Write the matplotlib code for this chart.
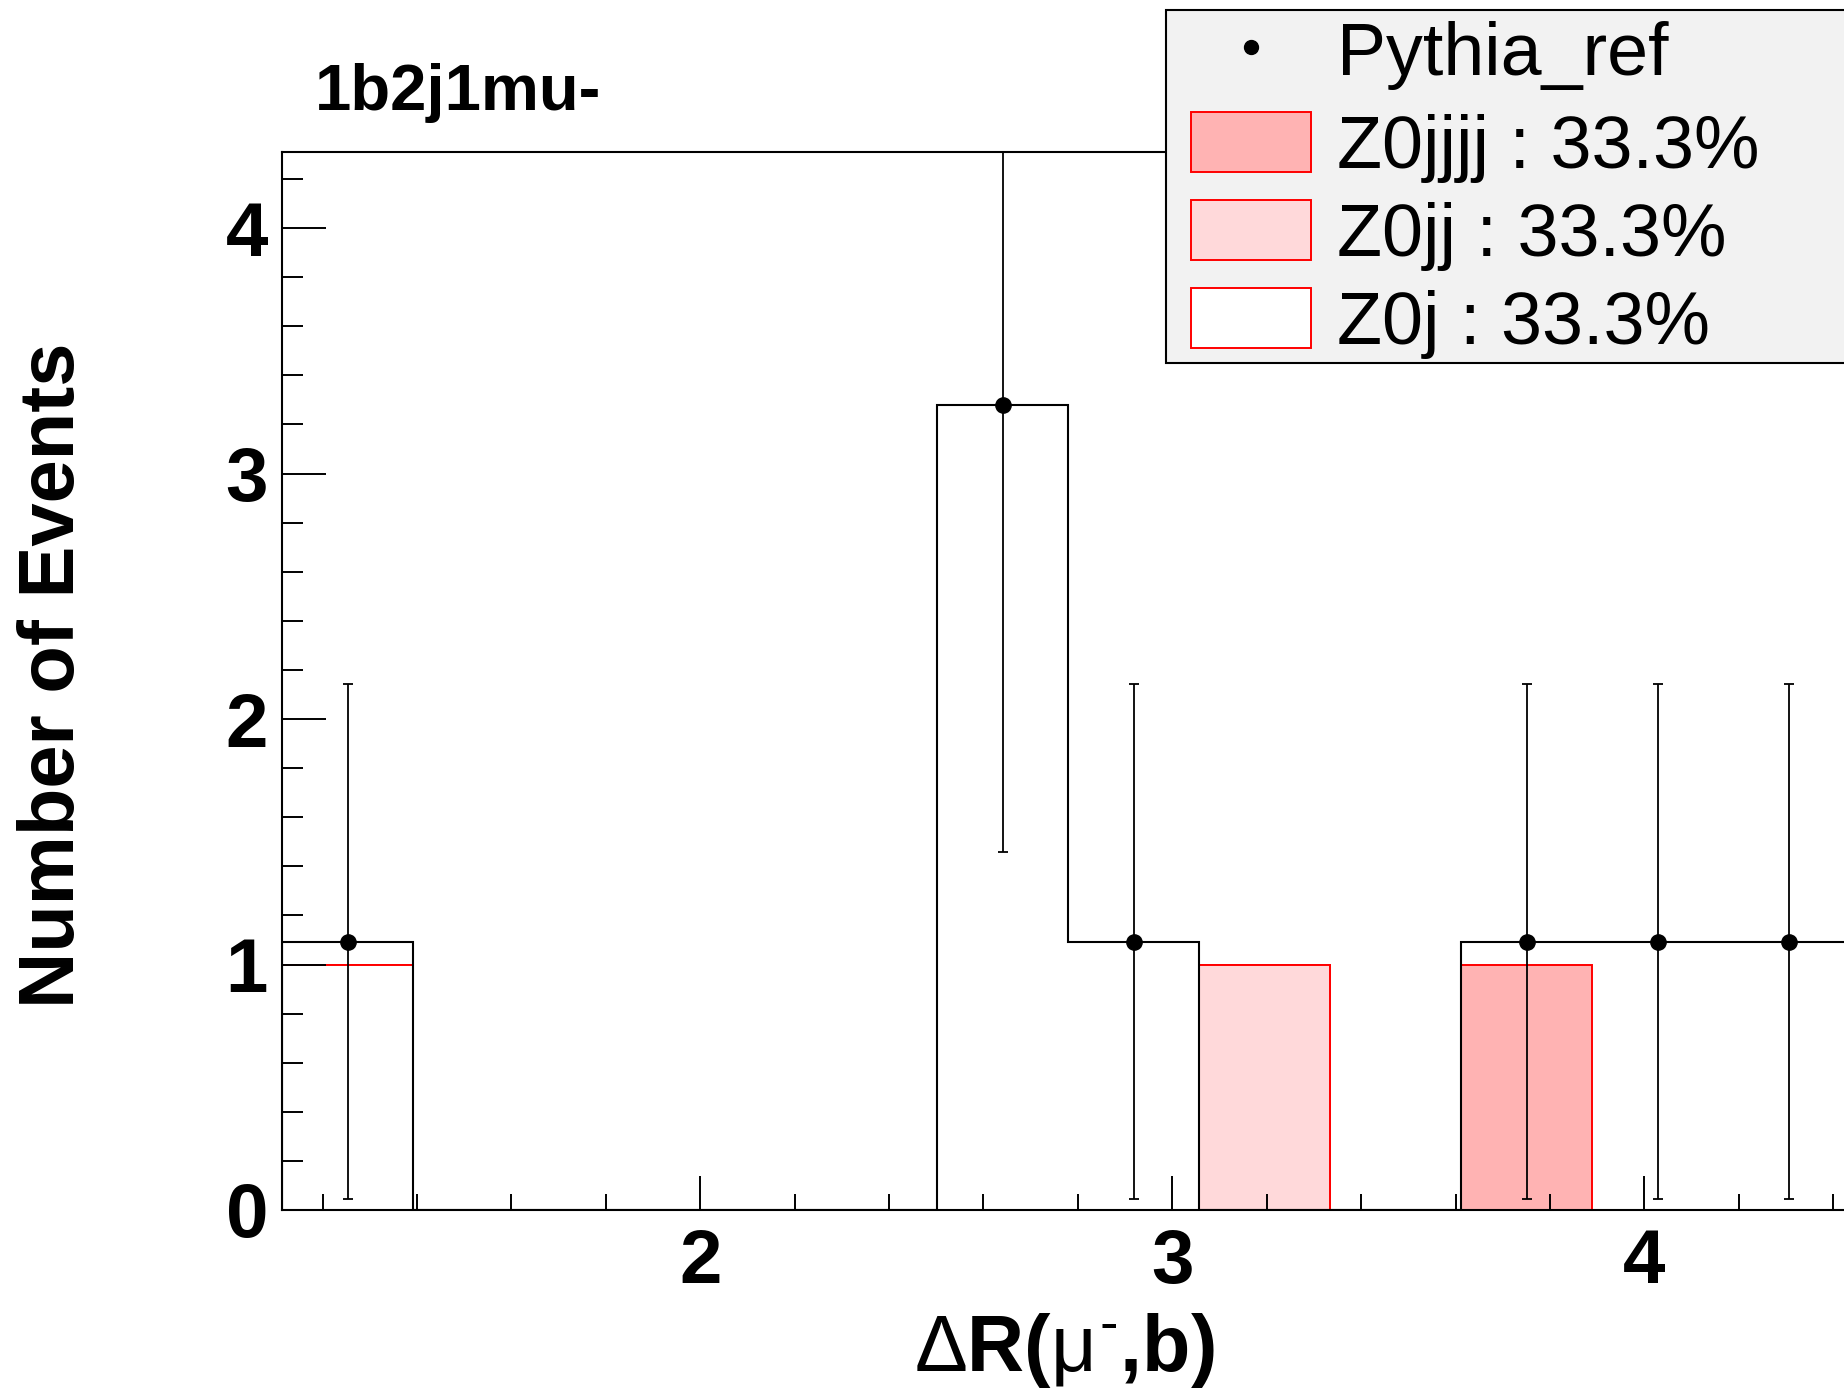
"""Delta R(mu-, b) distribution: Pythia reference vs stacked Z0+jets samples."""
import matplotlib
matplotlib.use("Agg")
import matplotlib.pyplot as plt
import numpy as np
from matplotlib.lines import Line2D
from matplotlib.patches import Patch, Rectangle
from matplotlib.ticker import MultipleLocator

plt.rcParams["font.family"] = ["Liberation Sans", "DejaVu Sans"]
plt.rcParams["mathtext.fontset"] = "custom"
plt.rcParams["mathtext.rm"] = "Liberation Sans"
plt.rcParams["mathtext.it"] = "Liberation Sans"
plt.rcParams["mathtext.bf"] = "Liberation Sans:bold"

# ── data ─────────────────────────────────────────────────────────────────────
bin_edges = np.array([1.114, 1.392, 1.669, 1.947, 2.224, 2.502, 2.779,
                      3.057, 3.334, 3.612, 3.889, 4.167, 4.444])
pythia = np.array([1.093, 0, 0, 0, 0, 3.28, 1.093, 0, 0, 1.093, 1.093, 1.093])
pythia_err = np.array([1.05, 0, 0, 0, 0, 1.82, 1.05, 0, 0, 1.05, 1.05, 1.05])
z0j = np.array([1, 0, 0, 0, 0, 0, 0, 0, 0, 0, 0, 0])
z0jj = np.array([0, 0, 0, 0, 0, 0, 0, 1, 0, 0, 0, 0])
z0jjjj = np.array([0, 0, 0, 0, 0, 0, 0, 0, 0, 1, 0, 0])
labels = ["Pythia_ref", "Z0jjjj : 33.3%", "Z0jj : 33.3%", "Z0j : 33.3%"]
colors = {"Z0jjjj": "#FFB3B3", "Z0jj": "#FFD9DA", "Z0j": "#FFFFFF"}

W, H = 1844, 1392
fig = plt.figure(figsize=(W / 100, H / 100), dpi=100)
ax = fig.add_axes([282 / W, 1 - 1210 / H, 1572 / W, 1058 / H])

# stacked samples, drawn from the full sum down (ROOT THStack style)
stack = [("Z0jjjj", z0j + z0jj + z0jjjj), ("Z0jj", z0j + z0jj), ("Z0j", z0j)]
for name, cum in stack:
    ax.stairs(cum, bin_edges, fill=True, facecolor=colors[name],
              edgecolor="red", linewidth=1.4, zorder=1)

# reference histogram outline + points with errors
ax.stairs(pythia, bin_edges, color="black", linewidth=1.5, zorder=2)
centers = 0.5 * (bin_edges[:-1] + bin_edges[1:])
mask = pythia > 0
ax.errorbar(centers[mask], pythia[mask], yerr=pythia_err[mask], fmt="o",
            color="black", markersize=11, elinewidth=1.3, capsize=3.3,
            capthick=1.3, zorder=3)

ax.set_xlim(bin_edges[0], bin_edges[-1])
ax.set_ylim(0, 4.31)

ax.xaxis.set_major_locator(MultipleLocator(1))
ax.xaxis.set_minor_locator(MultipleLocator(0.2))
ax.yaxis.set_major_locator(MultipleLocator(1))
ax.yaxis.set_minor_locator(MultipleLocator(0.2))
ax.tick_params(axis="both", which="both", direction="in", width=1.4,
               top=False, right=False)
ax.tick_params(axis="x", which="major", length=24.5, pad=13)
ax.tick_params(axis="x", which="minor", length=11.5)
ax.tick_params(axis="y", which="major", length=31.5, pad=10)
ax.tick_params(axis="y", which="minor", length=15)
for lab in ax.get_xticklabels() + ax.get_yticklabels():
    lab.set_fontsize(55)
    lab.set_fontweight("bold")
for sp in ax.spines.values():
    sp.set_linewidth(1.5)
    sp.set_zorder(4)

ax.set_ylabel("Number of Events", fontsize=56, fontweight="bold")
ax.yaxis.set_label_coords(-0.122, 0.505)
ax.set_xlabel("$\\Delta\\mathbf{R(}\\mu^{\u2010}\\mathbf{{,}b)}$", fontsize=57)
ax.xaxis.set_label_coords(0.498, -0.095)

fig.text(315 / W, 1 - 110 / H, "1b2j1mu-", fontsize=47, fontweight="bold",
         ha="left", va="baseline")

# ── legend ───────────────────────────────────────────────────────────────────
fig.add_artist(Rectangle((1166 / W, 1 - 363 / H), 800 / W, 353 / H,
                         transform=fig.transFigure, facecolor="#F2F2F2",
                         edgecolor="black", linewidth=1.5, zorder=5))
leg_kw = dict(loc="upper left", frameon=False, fontsize=53,
              handlelength=1.63, handleheight=0.88, handletextpad=0.36,
              labelspacing=0.24, borderpad=0, borderaxespad=0)
marker_handle = Line2D([], [], marker="o", color="black", linestyle="none",
                       markersize=10)
leg1 = fig.legend([marker_handle], labels[:1],
                  bbox_to_anchor=(1191 / W, 1 - 19 / H), **leg_kw)
leg1.set_zorder(6)
patch_handles = [Patch(facecolor=colors[k], edgecolor="red", linewidth=1.4)
                 for k in ("Z0jjjj", "Z0jj", "Z0j")]
leg2 = fig.legend(patch_handles, labels[1:],
                  bbox_to_anchor=(1191 / W, 1 - 112 / H), **leg_kw)
leg2.set_zorder(6)

fig.savefig("out.png", dpi=100)
